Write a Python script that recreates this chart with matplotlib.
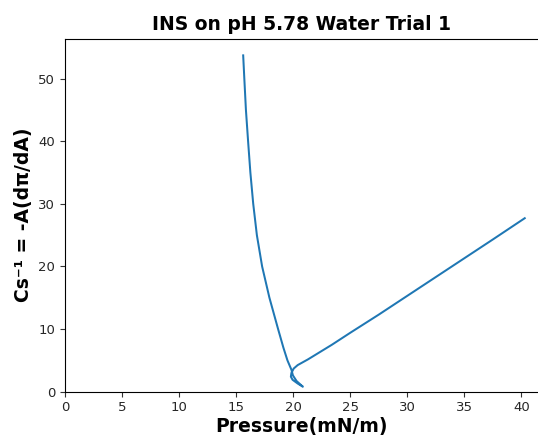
import matplotlib
matplotlib.use("Agg")
import matplotlib.pyplot as plt

# Surface pressure (mN/m) and compressibility modulus Cs^-1
pressure = [15.62, 15.72, 15.86, 16.05, 16.25, 16.50, 16.82, 17.28, 17.92, 18.68,
            19.15, 19.50, 19.85, 19.98, 20.30, 20.85, 20.40, 19.95, 19.80, 19.85,
            20.05, 20.40, 21.30, 23.40, 25.00, 27.50, 30.00, 32.50, 35.00, 37.50, 40.30]
cs_inv = [53.7, 50.0, 45.0, 40.0, 35.0, 30.0, 25.0, 20.0, 15.0, 10.0,
          7.0, 5.0, 3.5, 2.6, 1.7, 0.8, 1.3, 1.9, 2.4, 3.0,
          3.7, 4.25, 5.16, 7.5, 9.4, 12.3, 15.3, 18.3, 21.3, 24.3, 27.7]

title = "INS on pH 5.78 Water Trial 1"
xlabel = "Pressure(mN/m)"
ylabel = "Cs\u207b\u00b9 = -A(d\u03c0/dA)"
xticks = [0, 5, 10, 15, 20, 25, 30, 35, 40]
yticks = [0, 10, 20, 30, 40, 50]

fig = plt.figure(figsize=(5.38, 4.45), dpi=100)
ax = fig.add_axes([0.1208, 0.1198, 0.8807, 0.793])
ax.plot(pressure, cs_inv, color="#1f77b4", linewidth=1.45)
ax.set_xlim(left=0)
ax.set_ylim(bottom=0)
ax.set_xticks(xticks)
ax.set_yticks(yticks)
ax.tick_params(labelsize=9.5, colors="#333333", labelcolor="#262626")
ax.set_title(title, fontsize=13.5, fontweight="bold", pad=6)
ax.set_xlabel(xlabel, fontsize=13.5, fontweight="bold", labelpad=2)
ax.set_ylabel(ylabel, fontsize=13.5, fontweight="bold", labelpad=4)
fig.savefig("out.png", dpi=100)
